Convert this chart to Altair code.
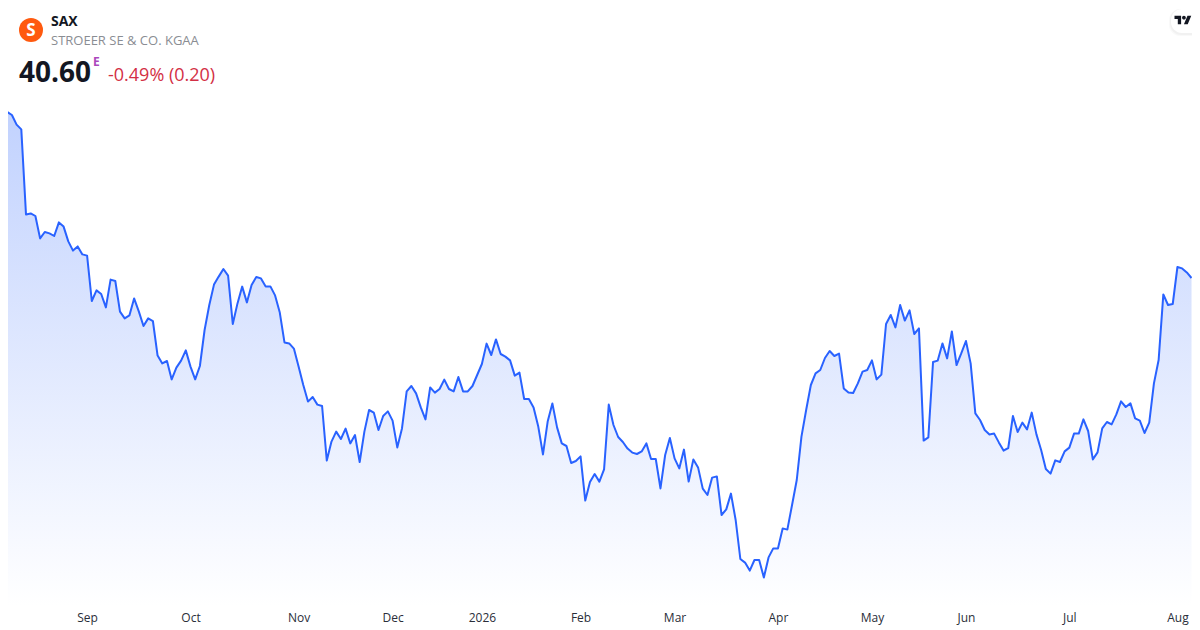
import altair as alt
import pandas as pd

TICKER = "SAX"
COMPANY = "STROEER SE & CO. KGAA"
LAST_PRICE = "40.60"
EXCHANGE_FLAG = "E"
CHANGE = "-0.49% (0.20)"
LOGO_LETTER = "S"

tick_positions = [18, 40, 63, 83, 102, 123, 143, 165, 185, 205, 227, 250]
tick_labels = ["Sep", "Oct", "Nov", "Dec", "2026", "Feb", "Mar", "Apr", "May", "Jun", "Jul", "Aug"]

prices_aug_nov = [
    49.33, 48.90, 48.75, 48.27, 48.03, 43.78, 43.83, 43.70, 42.58, 42.90, 42.83, 42.70, 43.38, 43.17, 42.43, 41.97,
    42.18, 41.78, 41.72, 39.45, 39.98, 39.80, 39.13, 40.52, 40.45, 38.92, 38.58, 38.73, 39.58, 38.93, 38.20, 38.58,
    38.45, 36.72, 36.33, 36.45, 35.53, 36.12, 36.47, 36.98, 36.17, 35.53, 36.20, 38.00, 39.25, 40.27, 40.67, 41.05,
    40.72, 38.30, 39.33, 40.17, 39.38, 40.25, 40.65, 40.58, 40.18, 40.18, 39.73, 38.87, 37.38, 37.33, 37.07, 36.17,
    35.25,
]
prices_nov_feb = [
    34.42, 34.65, 34.27, 34.20, 31.47, 32.42, 32.92, 32.55, 33.07, 32.33, 32.75, 31.40, 32.92, 34.00, 33.87, 33.00,
    33.70, 33.93, 33.47, 32.13, 33.08, 34.93, 35.20, 34.83, 34.13, 33.53, 35.13, 34.87, 35.05, 35.52, 35.05, 34.93,
    35.65, 34.93, 34.93, 35.20, 35.75, 36.30, 37.32, 36.75, 37.53, 36.80, 36.67, 36.48, 35.72, 35.87, 34.55, 34.55,
    34.13, 33.17, 31.78, 33.42, 34.33, 33.13, 32.33, 32.20, 31.35, 31.45, 31.68, 29.47, 30.40, 30.80, 30.42,
]
prices_feb_apr = [
    31.03, 34.27, 33.25, 32.65, 32.40, 32.07, 31.87, 31.80, 31.93, 32.33, 31.55, 31.55, 30.08, 31.75, 32.60, 31.58,
    31.08, 32.02, 30.42, 31.53, 31.13, 30.07, 29.75, 30.62, 30.68, 28.75, 29.03, 29.82, 28.50, 26.55, 26.37, 25.97,
    26.50, 26.50, 25.62, 26.63, 27.08, 27.08, 28.08, 28.02, 29.25, 30.50, 32.67, 34.00,
]
prices_apr_may = [
    35.25, 35.83, 36.00, 36.60, 36.95, 36.70, 36.82, 35.08, 34.87, 34.85, 35.33, 35.92, 36.00, 36.48, 35.53, 35.77,
    38.30, 38.75, 38.13, 39.25,
]
prices_may_aug = [
    38.47, 38.98, 37.80, 38.08, 32.47, 32.63, 36.40, 36.47, 37.33, 36.58, 37.93, 36.25, 36.83, 37.45, 36.33, 33.83,
    33.50, 33.00, 32.78, 32.82, 32.38, 31.97, 32.10, 33.70, 32.90, 33.37, 33.03, 33.87, 32.78, 32.00, 31.05, 30.82,
    31.48, 31.40, 31.93, 32.12, 32.82, 32.82, 33.53, 32.95, 31.53, 31.88, 33.08, 33.40, 33.28, 33.78, 34.43, 34.15,
    34.33, 33.58, 33.47, 32.85, 33.37, 35.33, 36.50, 39.78, 39.25, 39.30, 41.15, 41.08, 40.88, 40.60,
]

prices = prices_aug_nov + prices_nov_feb + prices_feb_apr + prices_apr_may + prices_may_aug
df = pd.DataFrame({"session": list(range(len(prices))), "price": prices})

FONT = "Open Sans"
BLUE = "#2962ff"
W, H = 1184, 598


def X(v):
    return v - 8


def Y(v):
    return v - 8


x_enc = alt.X(
    "session:Q",
    scale=alt.Scale(domain=[1.17, 253.1], nice=False, zero=False),
    axis=alt.Axis(
        values=tick_positions,
        labelExpr="{}[indexof({}, datum.value)]".format(tick_labels, tick_positions),
        labelFontWeight=alt.condition("datum.label == '2026'", alt.value("bold"), alt.value("normal")),
        labelColor="#2a2e39",
        labelFontSize=12,
        labelFont=FONT,
        labelPadding=6,
        labelOverlap=False,
        labelBound=False,
        labelFlush=False,
        domain=False,
        ticks=False,
        grid=False,
        title=None,
    ),
)
y_enc = alt.Y(
    "price:Q",
    scale=alt.Scale(domain=[24.2, 54.1], nice=False, zero=False),
    axis=None,
)

area = alt.Chart(df).mark_area(
    clip=True,
    line=False,
    color=alt.Gradient(
        gradient="linear",
        x1=0, x2=0, y1=0.02, y2=0.51,
        stops=[
            alt.GradientStop(color="#c3d3fe", offset=0),
            alt.GradientStop(color="#ffffff", offset=1),
        ],
    ),
).encode(x=x_enc, y=y_enc, y2=alt.value(H))

line = alt.Chart(df).mark_line(clip=True, color=BLUE, strokeWidth=2, strokeJoin="round").encode(x=x_enc, y=y_enc)


def one(text):
    return alt.Chart(pd.DataFrame({"t": [text]}))


def label(text, x, y, size, color, weight="normal", align="left"):
    return one(text).mark_text(
        font=FONT, fontSize=size, color=color, fontWeight=weight, align=align, baseline="alphabetic"
    ).encode(x=alt.value(X(x)), y=alt.value(Y(y)), text="t:N")


logo = one(TICKER).mark_circle(size=576, color="#ff5a0f", opacity=1).encode(x=alt.value(X(31)), y=alt.value(Y(30)))
logo_s = label(LOGO_LETTER, 31, 36, 17, "#ffffff", "bold", "center")

TV_PATH = (
    "M-0.222 0.5H-0.611V-0.111H-1V-0.5H-0.222Z"
    "M0.556 0.5H0.111L0.528 -0.5H0.972Z"
    "M0.333 -0.278A0.222 0.222 0 1 1 -0.111 -0.278A0.222 0.222 0 1 1 0.333 -0.278Z"
)


def pill(x0, y0, y1, color, opacity):
    return one("pill").mark_rect(color=color, opacity=opacity, cornerRadius=11).encode(
        x=alt.value(X(x0)), x2=alt.value(X(1230)), y=alt.value(Y(y0)), y2=alt.value(Y(y1))
    )


tv_shadow = [pill(1169, 9, 36, "#000000", 0.025), pill(1170, 9, 35, "#000000", 0.03)]
tv_button = pill(1171, 9, 33, "#ffffff", 1)
tv_mark = one("logo").mark_point(shape=TV_PATH, filled=True, size=289, color="#131722", opacity=1).encode(
    x=alt.value(X(1183)), y=alt.value(Y(20))
)

chart = alt.layer(
    area,
    line,
    *tv_shadow,
    tv_button,
    tv_mark,
    logo,
    logo_s,
    label(TICKER, 51, 26, 14, "#131722", "bold"),
    label(COMPANY, 51, 45, 13, "#8a8d93"),
    label(LAST_PRICE, 19, 82, 28, "#131722", "bold"),
    label(EXCHANGE_FLAG, 93, 66, 12, "#ab47bc", "bold"),
    label(CHANGE, 108, 81, 18, "#d32f45"),
).properties(
    width=W,
    height=H,
    autosize="none",
    background="#ffffff",
    padding={"left": 0, "top": 0, "right": 0, "bottom": 22},
).configure_view(stroke=None)

chart.save("out.html", embed_options={"renderer": "svg", "actions": False})
